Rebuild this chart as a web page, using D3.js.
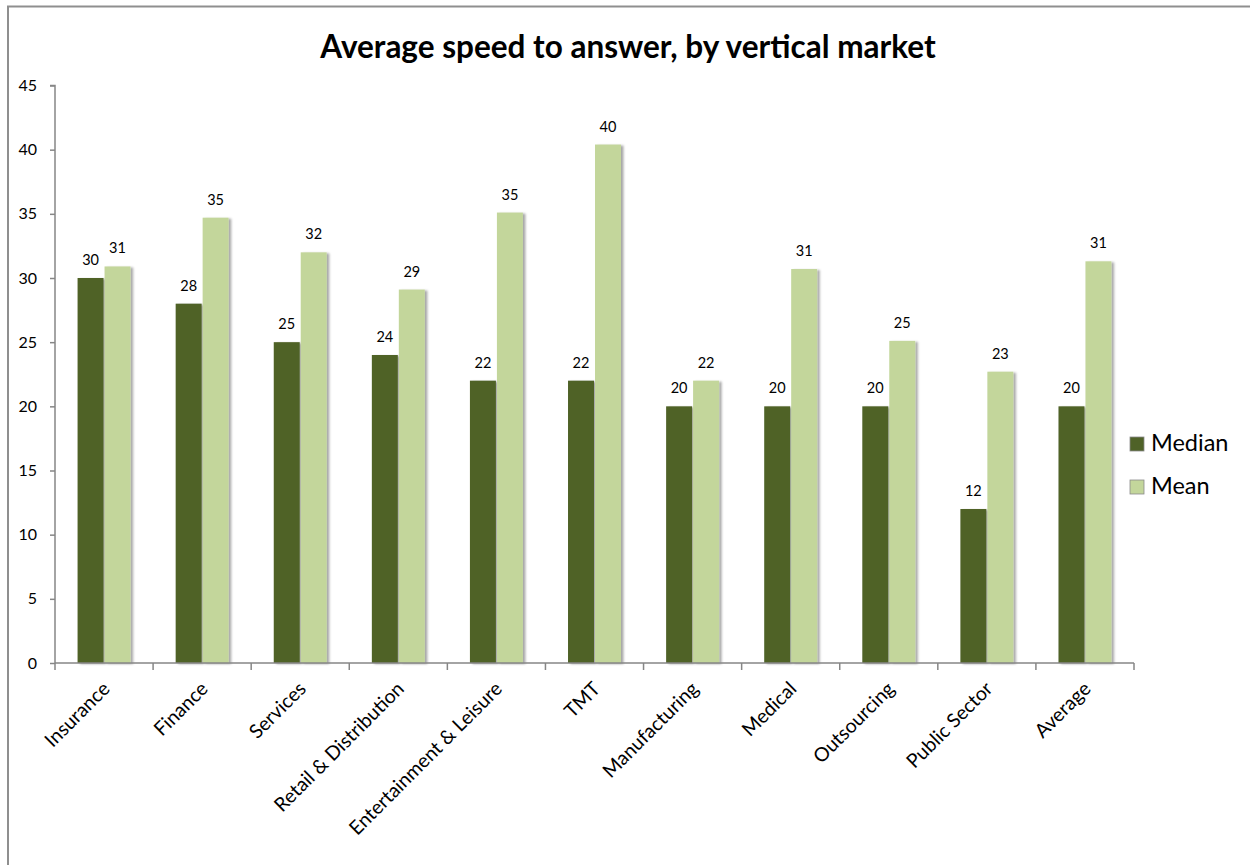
<!DOCTYPE html>
<html>
<head>
<meta charset="utf-8">
<script src="https://cdn.jsdelivr.net/npm/d3@7"></script>
<style>
  html, body { margin: 0; padding: 0; background: #fff; }
  svg { display: block; font-family: Lato, "Open Sans", sans-serif; }
</style>
</head>
<body>
<svg id="chart" width="1250" height="865"></svg>
<script>
const categories = ["Insurance", "Finance", "Services", "Retail & Distribution", "Entertainment & Leisure", "TMT", "Manufacturing", "Medical", "Outsourcing", "Public Sector", "Average"];
const seriesNames = ["Median", "Mean"];
const medianValues = [30, 28, 25, 24, 22, 22, 20, 20, 20, 12, 20];
const meanValues = [30.9, 34.7, 32.0, 29.1, 35.1, 40.4, 22.0, 30.7, 25.1, 22.7, 31.3];
const yTicks = [0, 5, 10, 15, 20, 25, 30, 35, 40, 45];
const title = "Average speed to answer, by vertical market";

(function () {
const colors = { "Median": "#4F6228", "Mean": "#C3D69B" };
const data = categories.map((c, i) => ({ category: c, Median: medianValues[i], Mean: meanValues[i] }));

const svg = d3.select("#chart");
const defs = svg.append("defs");
const f = defs.append("filter").attr("id", "shadow").attr("x", "-20%").attr("y", "-5%").attr("width", "150%").attr("height", "110%");
f.append("feDropShadow").attr("dx", 2.5).attr("dy", 1).attr("stdDeviation", 1.2).attr("flood-color", "#000").attr("flood-opacity", 0.35);

// outer frame
svg.append("rect").attr("x", 8).attr("y", 6.5).attr("width", 1400).attr("height", 1000)
  .attr("fill", "none").attr("stroke", "#8f8f8f").attr("stroke-width", 2);

const pLeft = 55, pRight = 1134, pTop = 85.5, pBottom = 663;
const x = d3.scaleBand().domain(categories).range([pLeft, pRight]).padding(0);
const x1 = d3.scaleBand().domain(seriesNames).range([x.bandwidth() * 0.225, x.bandwidth() * 0.775]).padding(0);
const y = d3.scaleLinear().domain([0, 45]).range([pBottom, pTop]);

// title
svg.append("text").attr("x", 628).attr("y", 58).attr("text-anchor", "middle")
  .attr("font-size", 31.5).attr("font-weight", "bold").attr("fill", "#000").text(title);

// bars
const groups = svg.append("g").selectAll("g").data(data).join("g")
  .attr("transform", d => `translate(${x(d.category)},0)`);
groups.selectAll("rect").data(d => seriesNames.map(k => ({ key: k, value: d[k] }))).join("rect")
  .attr("x", d => x1(d.key) + 0.5)
  .attr("width", x1.bandwidth() - 1)
  .attr("y", d => y(d.value))
  .attr("height", d => pBottom - y(d.value))
  .attr("fill", d => colors[d.key])
  .attr("filter", "url(#shadow)");
groups.selectAll("text.lbl").data(d => seriesNames.map(k => ({ key: k, value: d[k] }))).join("text")
  .attr("class", "lbl")
  .attr("x", d => x1(d.key) + x1.bandwidth() / 2)
  .attr("y", d => y(d.value) - 13)
  .attr("text-anchor", "middle").attr("font-size", 14.5).attr("fill", "#000")
  .text(d => d3.format(".0f")(d.value));

// y axis
const yAxis = d3.axisLeft(y).tickValues(yTicks).tickSize(5).tickPadding(13).tickFormat(d3.format("d"));
const gy = svg.append("g").attr("transform", `translate(${pLeft},0)`).call(yAxis);
gy.select(".domain").attr("stroke", "#868686").attr("stroke-width", 1.5).attr("d", `M-5,${pTop}H0V${pBottom}`);
gy.selectAll(".tick line").attr("stroke", "#868686").attr("stroke-width", 1.5);
gy.selectAll(".tick text").attr("font-size", 16).attr("fill", "#000").attr("font-family", "Lato, sans-serif");

// x axis
const gx = svg.append("g").attr("transform", `translate(0,${pBottom})`);
gx.append("line").attr("x1", pLeft).attr("x2", pRight).attr("y1", 0).attr("y2", 0).attr("stroke", "#868686").attr("stroke-width", 1.5);
const boundaries = categories.map(c => x(c)).concat([pRight]);
gx.selectAll("line.tk").data(boundaries).join("line").attr("class", "tk")
  .attr("x1", d => d).attr("x2", d => d).attr("y1", 0).attr("y2", 7)
  .attr("stroke", "#868686").attr("stroke-width", 1.5);
gx.selectAll("text").data(categories).join("text")
  .attr("transform", d => `translate(${x(d) + x.bandwidth() / 2 + 7},${27}) rotate(-45)`)
  .attr("text-anchor", "end").attr("font-size", 19.5).attr("fill", "#000")
  .text(d => d);

// legend
const lg = svg.append("g").attr("transform", "translate(1130,437)");
seriesNames.forEach((k, i) => {
  const g = lg.append("g").attr("transform", `translate(0,${i * 43})`);
  g.append("rect").attr("width", 14).attr("height", 14).attr("fill", colors[k])
    .attr("stroke", "#8a8a8a").attr("stroke-width", 0.8);
  g.append("text").attr("x", 21).attr("y", 14).attr("font-size", 23.5).attr("fill", "#000").text(k);
});
})();
</script>
</body>
</html>
